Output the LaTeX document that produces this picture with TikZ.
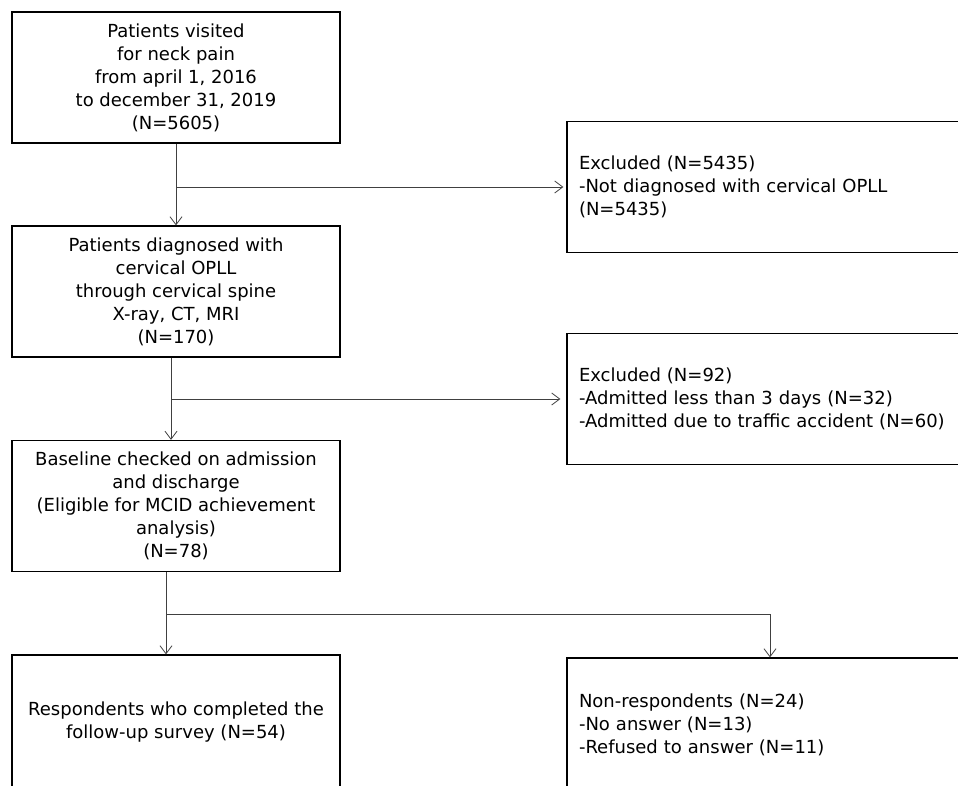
\documentclass[tikz,border=0pt]{standalone}
\usepackage{fontspec}
\setmainfont{DejaVu Sans}
\usetikzlibrary{arrows.meta, positioning}

\tikzset{
  box/.style={draw, line width=1.3pt, minimum width=328, minimum height=131,
    align=center, inner sep=0pt, font=\fontsize{18}{23}\selectfont},
  sidebox/.style={box, align=left, text width=396, inner xsep=12pt},
  flow/.style={draw=black!75, line width=0.8pt,
    -{Straight Barb[length=8pt, width=12pt]}}
}

\begin{document}
\begin{tikzpicture}[x=1pt, y=-1pt]
  \clip (0,0) rectangle (958,785);
  % main column
  \node[box] (visit) at (176,77.5) {Patients visited\\for neck pain\\from april 1, 2016\\to december 31, 2019\\(N=5605)};
  \node[box] (oplll) at (176,291.5) {Patients diagnosed with\\cervical OPLL\\through cervical spine\\X-ray, CT, MRI\\(N=170)};
  \node[box] (base) at (176,506) {Baseline checked on admission\\and discharge\\(Eligible for MCID achievement\\analysis)\\(N=78)};
  \node[box, minimum height=134] (resp) at (176,722) {Respondents who completed the\\follow-up survey (N=54)};
  % excluded boxes
  \node[sidebox] (excl1) at (777,187) {Excluded (N=5435)\\-Not diagnosed with cervical OPLL\\(N=5435)};
  \node[sidebox] (excl2) at (777,399) {Excluded (N=92)\\-Admitted less than 3 days (N=32)\\-Admitted due to traffic accident (N=60)};
  \node[sidebox, minimum height=134] (nonresp) at (777,725) {Non-respondents (N=24)\\-No answer (N=13)\\-Refused to answer (N=11)};
  % connectors
  \coordinate (j1) at (176,187);
  \coordinate (j2) at (171,399);
  \coordinate (j3) at (166,614);
  \draw[flow] (visit.south) -- (oplll.north);
  \draw[flow] (j1) -- ([xshift=-3]excl1.west);
  \draw[flow] ([xshift=-5]oplll.south) -- ([xshift=-5]base.north);
  \draw[flow] (j2) -- ([xshift=-6]excl2.west);
  \draw[flow] ([xshift=-10]base.south) -- ([xshift=-10]resp.north);
  \draw[flow] (j3) -| ([xshift=-7]nonresp.north);
\end{tikzpicture}
\end{document}
